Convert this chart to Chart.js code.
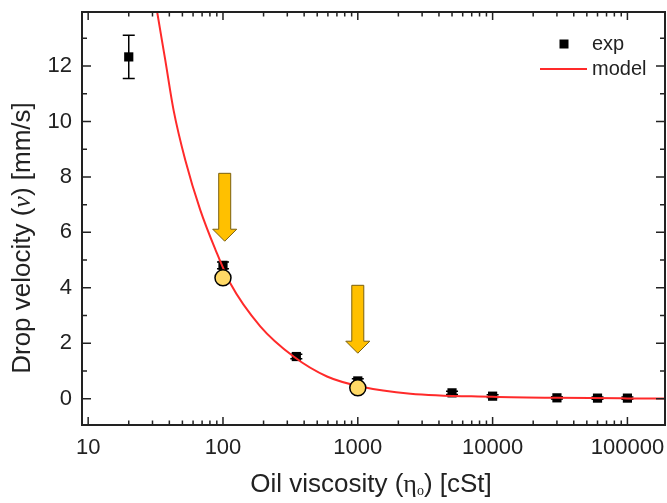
<!DOCTYPE html>
<html>
<head>
<meta charset="utf-8">
<script src="https://cdn.jsdelivr.net/npm/chart.js@4/dist/chart.umd.min.js"></script>
<style>
  html, body { margin: 0; padding: 0; background: #fff; }
  #wrap { width: 667px; height: 503px; }
</style>
</head>
<body>
<div id="wrap"><canvas id="c" width="667" height="503"></canvas></div>
<script>
// ---- data ----
const expX = [20, 100, 350, 1000, 5000, 10000, 30000, 60000, 100000];
const expY = [12.33, 4.81, 1.52, 0.64, 0.21, 0.09, 0.03, 0.02, 0.02];
const expErr = [0.78, 0.12, 0.08, 0.08, 0.06, 0.05, 0.04, 0.04, 0.04];

const modelX = [30, 32.5, 37.3, 43, 52.5, 67.8, 88, 113, 189, 334, 591, 1045, 2455, 10000, 30000, 100000, 190000];
const modelY = [15.0, 13.95, 12.22, 10.41, 8.61, 6.81, 5.37, 4.17, 2.61, 1.52, 0.80, 0.44, 0.18, 0.07, 0.03, 0.01, 0.005];

const markX = [100, 1000];
const markY = [4.36, 0.39];

const arrowX = [103, 1000];
const arrowTop = [8.13, 4.09];
const arrowTip = [5.68, 1.64];

const xTickLabels = [10, 100, 1000, 10000, 100000];
const yTickLabels = [0, 2, 4, 6, 8, 10, 12];
const yMinorTicks = [-1, 1, 3, 5, 7, 9, 11, 13];

const legendLabels = ['exp', 'model'];
const xTitle = ['Oil viscosity (', '\u03B7', 'o', ') [cSt]'];
const yTitle = ['Drop velocity (', '\u03BD', ') [mm/s]'];

// ---- styles ----
const AXIS = '#222222';
const RED = '#FF2A2A';
const SANS = '"Liberation Sans", Arial, sans-serif';
const SERIF = '"Liberation Serif", "DejaVu Serif", serif';

function zeroPad(s) { s.paddingTop = 0; s.paddingBottom = 0; s.paddingLeft = 0; s.paddingRight = 0; }

const decorPlugin = {
  id: 'decor',
  beforeDatasetsDraw(chart) {
    const ctx = chart.ctx, x = chart.scales.x, y = chart.scales.y;
    ctx.save();
    ctx.strokeStyle = '#000';
    ctx.lineWidth = 1.5;
    for (let i = 0; i < expX.length; i++) {
      const px = x.getPixelForValue(expX[i]);
      const y1 = y.getPixelForValue(expY[i] - expErr[i]);
      const y2 = y.getPixelForValue(expY[i] + expErr[i]);
      ctx.beginPath();
      ctx.moveTo(px, y1); ctx.lineTo(px, y2);
      ctx.moveTo(px - 6, y1); ctx.lineTo(px + 6, y1);
      ctx.moveTo(px - 6, y2); ctx.lineTo(px + 6, y2);
      ctx.stroke();
    }
    ctx.restore();
  },
  afterDatasetsDraw(chart) {
    const ctx = chart.ctx, x = chart.scales.x, y = chart.scales.y;
    const a = chart.chartArea;
    ctx.save();
    // arrows
    for (let i = 0; i < arrowX.length; i++) {
      const cx = x.getPixelForValue(arrowX[i]);
      const t = y.getPixelForValue(arrowTop[i]);
      const tip = y.getPixelForValue(arrowTip[i]);
      const sw = 6, hw = 12, hl = 12;
      ctx.beginPath();
      ctx.moveTo(cx - sw, t);
      ctx.lineTo(cx + sw, t);
      ctx.lineTo(cx + sw, tip - hl);
      ctx.lineTo(cx + hw, tip - hl);
      ctx.lineTo(cx, tip);
      ctx.lineTo(cx - hw, tip - hl);
      ctx.lineTo(cx - sw, tip - hl);
      ctx.closePath();
      ctx.fillStyle = '#FFC000';
      ctx.fill();
      ctx.strokeStyle = '#7A6010';
      ctx.lineWidth = 1;
      ctx.stroke();
    }
    // frame
    ctx.strokeStyle = AXIS;
    ctx.lineWidth = 2;
    ctx.strokeRect(a.left, a.top, a.right - a.left, a.bottom - a.top);
    // ticks inward
    ctx.lineWidth = 1.5;
    ctx.beginPath();
    for (let e = 1; e <= 5; e++) {
      for (let m = 1; m <= 9; m++) {
        const v = m * Math.pow(10, e);
        if (v < x.min || v > x.max) continue;
        const px = x.getPixelForValue(v);
        const len = m === 1 ? 8 : 4.5;
        ctx.moveTo(px, a.bottom); ctx.lineTo(px, a.bottom - len);
        ctx.moveTo(px, a.top); ctx.lineTo(px, a.top + len);
      }
    }
    const ymaj = yTickLabels, ymin = yMinorTicks;
    ymaj.concat(ymin).forEach(v => {
      if (v < y.min || v > y.max) return;
      const py = y.getPixelForValue(v);
      const len = ymaj.includes(v) ? 9 : 5;
      ctx.moveTo(a.left, py); ctx.lineTo(a.left + len, py);
      ctx.moveTo(a.right, py); ctx.lineTo(a.right - len, py);
    });
    ctx.stroke();

    // legend
    ctx.fillStyle = '#000';
    ctx.fillRect(559.5, 39.5, 9, 9);
    ctx.strokeStyle = RED;
    ctx.lineWidth = 2;
    ctx.beginPath(); ctx.moveTo(540, 69); ctx.lineTo(587, 69); ctx.stroke();
    ctx.fillStyle = '#222';
    ctx.font = '20px ' + SANS;
    ctx.textBaseline = 'middle';
    ctx.textAlign = 'left';
    ctx.fillText(legendLabels[0], 592, 44);
    ctx.fillText(legendLabels[1], 592, 69);

    // x title
    ctx.textBaseline = 'alphabetic';
    const fMain = '26px ' + SANS, fGreek = '26px ' + SERIF, fSub = '14px ' + SERIF;
    const parts = [[xTitle[0], fMain, 0], [xTitle[1], fGreek, 0], [xTitle[2], fSub, 3], [xTitle[3], fMain, 0]];
    let w = 0;
    parts.forEach(p => { ctx.font = p[1]; w += ctx.measureText(p[0]).width; });
    let sx = 371 - w / 2;
    parts.forEach(p => { ctx.font = p[1]; ctx.fillText(p[0], sx, 492 + p[2]); sx += ctx.measureText(p[0]).width; });

    // y title
    ctx.translate(30, 238);
    ctx.rotate(-Math.PI / 2);
    const yparts = [[yTitle[0], fMain], [yTitle[1], 'italic 26px ' + SERIF], [yTitle[2], fMain]];
    w = 0;
    yparts.forEach(p => { ctx.font = p[1]; w += ctx.measureText(p[0]).width; });
    sx = -w / 2;
    yparts.forEach(p => { ctx.font = p[1]; ctx.fillText(p[0], sx, 0); sx += ctx.measureText(p[0]).width; });
    ctx.restore();
  }
};

new Chart(document.getElementById('c'), {
  type: 'scatter',
  data: {
    datasets: [
      {
        label: 'marks',
        data: markX.map((v, i) => ({ x: v, y: markY[i] })),
        pointStyle: 'circle',
        pointRadius: 8,
        backgroundColor: '#FFD966',
        borderColor: '#000',
        borderWidth: 1.5,
        order: 0
      },
      {
        label: 'model',
        type: 'line',
        data: modelX.map((v, i) => ({ x: v, y: modelY[i] })),
        borderColor: RED,
        borderWidth: 2,
        pointRadius: 0,
        fill: false,
        cubicInterpolationMode: 'monotone',
        order: 1
      },
      {
        label: 'exp',
        data: expX.map((v, i) => ({ x: v, y: expY[i] })),
        pointStyle: 'rect',
        pointRadius: 6.5,
        backgroundColor: '#000',
        borderColor: '#000',
        borderWidth: 0,
        order: 2
      }
    ]
  },
  options: {
    responsive: false,
    animation: false,
    events: [],
    layout: { autoPadding: false, padding: { left: 0, right: 2, top: 12, bottom: 0 } },
    plugins: { legend: { display: false }, tooltip: { enabled: false } },
    scales: {
      x: {
        type: 'logarithmic',
        min: 9, max: 190000,
        grid: { display: false, drawTicks: false },
        border: { display: false },
        afterBuildTicks: s => { s.ticks = xTickLabels.map(v => ({ value: v })); },
        afterFit: s => { s.height = 78; zeroPad(s); },
        ticks: {
          autoSkip: false, maxRotation: 0, padding: 10,
          color: '#222', font: { family: SANS, size: 22 },
          callback: v => String(v)
        }
      },
      y: {
        min: -0.95, max: 13.95,
        grid: { display: false, drawTicks: false },
        border: { display: false },
        afterBuildTicks: s => { s.ticks = yTickLabels.map(v => ({ value: v })); },
        afterFit: s => { s.width = 82; zeroPad(s); },
        ticks: {
          padding: 10,
          color: '#222', font: { family: SANS, size: 22 },
          callback: v => String(v)
        }
      }
    }
  },
  plugins: [decorPlugin]
});
</script>
</body>
</html>
